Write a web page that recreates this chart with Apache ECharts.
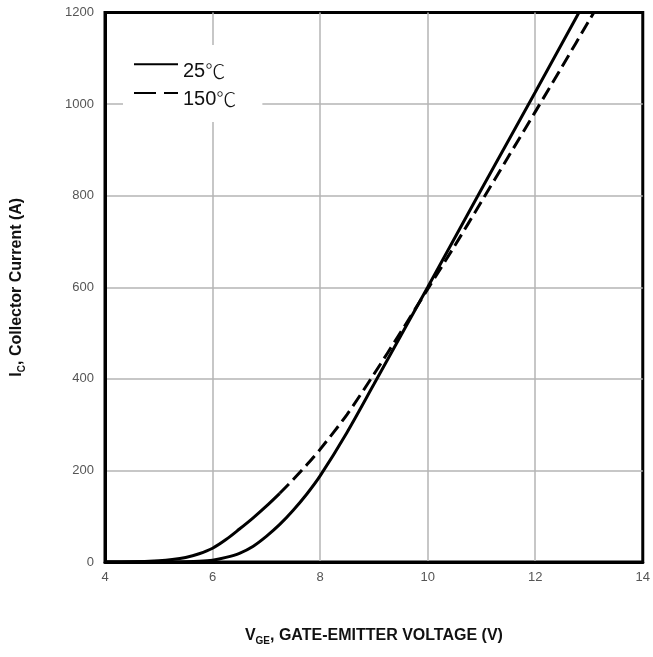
<!DOCTYPE html>
<html>
<head>
<meta charset="utf-8">
<script src="https://cdn.jsdelivr.net/npm/echarts@6/dist/echarts.min.js"></script>
<style>
html,body{margin:0;padding:0;background:#fff;}
#chart{width:653px;height:657px;}
</style>
</head>
<body>
<div id="chart"></div>
<script>
// Gate-emitter voltage (V)
const vge = [4, 4.5, 5, 5.25, 5.5, 5.75, 6, 6.25, 6.5, 6.75, 7, 7.25, 7.5, 7.75, 8, 8.5, 9, 9.5, 10, 10.5, 11, 11.5, 12, 12.5, 13, 13.5];
// Collector current (A) at 25 C
const ic25 = [0, 0, 0, 0.2, 0.5, 1.5, 4, 10, 19, 34, 56, 82, 113, 148, 188, 283, 388, 494, 600, 707, 814, 920, 1026, 1133, 1240, 1347];
// Collector current (A) at 150 C
const ic150 = [0, 0.5, 3, 5.5, 10, 18, 30, 49, 72, 96, 122, 150, 180, 212, 246, 322, 410, 502, 596, 690, 787, 885, 983, 1082, 1182, 1282];
// index where the 150 C curve switches from solid to dashed in the original
const dashStart = 11;
const xTicks = [4, 6, 8, 10, 12, 14];
const yTicks = [0, 200, 400, 600, 800, 1000, 1200];
const legendNames = ['25\u2103', '150\u2103'];

const pairs = (xs, ys) => xs.map((x, i) => [x, ys[i]]);
const p25 = pairs(vge, ic25);
const p150 = pairs(vge, ic150);

const chart = echarts.init(document.getElementById('chart'), null, {renderer: 'canvas'});
const font = '"Liberation Sans", Arial, "Noto Sans CJK SC", sans-serif';
const cjk = '"Noto Sans CJK SC", "Noto Sans CJK JP", sans-serif';
chart.setOption({
  animation: false,
  backgroundColor: '#fff',
  grid: {left: 105, right: 8, top: 12.5, bottom: 95, show: true, borderColor: '#000', borderWidth: 3, backgroundColor: 'transparent'},
  xAxis: {
    type: 'value', min: xTicks[0], max: xTicks[xTicks.length - 1], interval: 2,
    axisLine: {show: true, lineStyle: {color: '#000', width: 3}},
    axisTick: {show: false},
    splitLine: {show: true, showMinLine: false, showMaxLine: false, lineStyle: {color: '#b4b4b4', width: 1.5}},
    axisLabel: {color: '#555', fontSize: 13, fontFamily: font, margin: 9, formatter: v => String(v)},
    name: '{a|V}{s|GE}{a|, GATE-EMITTER VOLTAGE (V)}',
    nameLocation: 'middle', nameGap: 64,
    nameTextStyle: {
      fontFamily: font,
      rich: {
        a: {fontSize: 16, fontWeight: 'bold', color: '#111', fontFamily: font, lineHeight: 20},
        s: {fontSize: 10, fontWeight: 'bold', color: '#111', fontFamily: font, lineHeight: 20, verticalAlign: 'bottom'}
      }
    }
  },
  yAxis: {
    type: 'value', min: yTicks[0], max: yTicks[yTicks.length - 1], interval: 200,
    axisLine: {show: true, lineStyle: {color: '#000', width: 3}},
    axisTick: {show: false},
    splitLine: {show: true, showMinLine: false, showMaxLine: false, lineStyle: {color: '#b4b4b4', width: 1.5}},
    axisLabel: {color: '#555', fontSize: 13, fontFamily: font, margin: 11, formatter: v => String(v)},
    name: '{a|I}{s|C}{a|, Collector Current (A)}',
    nameLocation: 'middle', nameGap: 78, nameRotate: 90,
    nameTextStyle: {
      fontFamily: font,
      rich: {
        a: {fontSize: 16, fontWeight: 'bold', color: '#111', fontFamily: font, lineHeight: 20},
        s: {fontSize: 10, fontWeight: 'bold', color: '#111', fontFamily: font, lineHeight: 20, verticalAlign: 'bottom'}
      }
    }
  },
  legend: {
    orient: 'vertical', left: 123, top: 45,
    backgroundColor: '#fff', borderWidth: 0,
    padding: [12, 26, 12, 10],
    itemWidth: 44, itemHeight: 18, itemGap: 4.5,
    itemStyle: {opacity: 0},
    data: [
      {name: legendNames[0]},
      {name: legendNames[1], lineStyle: {type: [22, 8]}}
    ],
    formatter: name => '{n|' + name.slice(0, -1) + '}{c|' + name.slice(-1) + '}',
    textStyle: {
      rich: {
        n: {fontSize: 20, color: '#111', fontFamily: font, lineHeight: 34, verticalAlign: 'bottom'},
        c: {fontSize: 20, color: '#111', fontFamily: cjk, fontWeight: 300, lineHeight: 34, verticalAlign: 'bottom'}
      }
    }
  },
  series: [
    {
      name: legendNames[0], type: 'line', data: p25, smooth: 0.3, showSymbol: false, symbol: 'none',
      lineStyle: {color: '#000', width: 3}, itemStyle: {color: '#000'}, z: 5
    },
    {
      name: legendNames[1], type: 'line', data: p150.slice(dashStart), smooth: 0.3, showSymbol: false, symbol: 'none',
      lineStyle: {color: '#000', width: 3, type: [13, 6]}, itemStyle: {color: '#000'}, z: 5
    },
    {
      name: '150solid', type: 'line', data: p150.slice(0, dashStart + 1), smooth: 0.3, showSymbol: false, symbol: 'none',
      lineStyle: {color: '#000', width: 3}, itemStyle: {color: '#000'}, z: 5
    }
  ]
});
</script>
</body>
</html>
